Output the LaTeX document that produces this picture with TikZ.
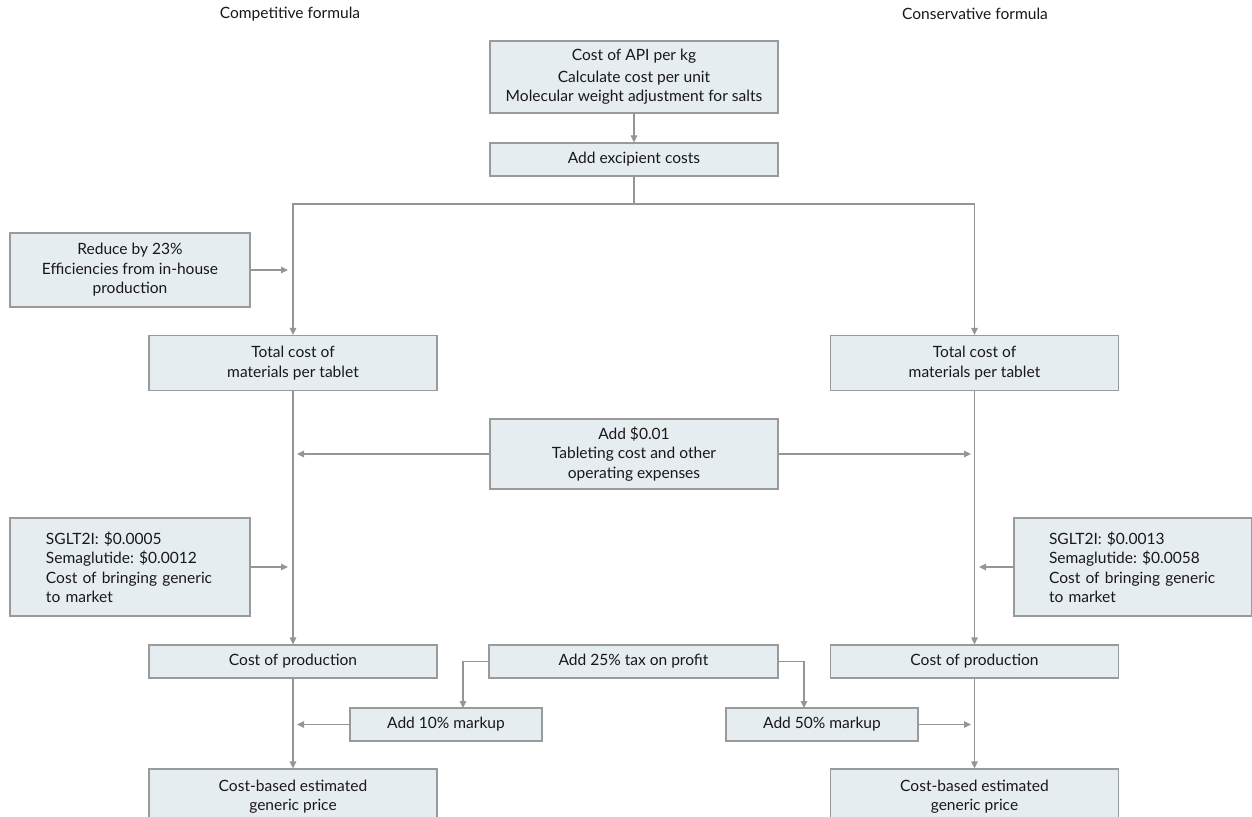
\documentclass[tikz,border=0pt]{standalone}
\usepackage{fontspec}
\setmainfont{Lato}
\usetikzlibrary{arrows.meta}
\definecolor{boxfill}{HTML}{E6EDF1}
\definecolor{boxline}{HTML}{9A9A9A}
\definecolor{conn}{HTML}{959595}
\definecolor{txt}{HTML}{1A1718}
\begin{document}
\frenchspacing
\begin{tikzpicture}[x=1bp,y=-1bp,
  every node/.style={text=txt,font=\fontsize{15.6}{19.5}\selectfont},
  box/.style={draw=boxline,fill=boxfill,line width=1.2bp,inner sep=0pt,align=center},
  conn/.style={draw=conn,line width=1.2bp},
  arr/.style={conn,-{Triangle[length=7bp,width=6.5bp]}}]
\useasboundingbox (0,0) rectangle (1252,817);
% headers
\node (hL) at (290,14) {Competitive formula};
\node (hR) at (975,14) {Conservative formula};
% boxes
\node[box,minimum width=288bp,minimum height=72bp] (api) at (634,77) {Cost of API per kg\\[2bp]Calculate cost per unit\\Molecular weight adjustment for salts};
\node[box,minimum width=288bp,minimum height=33bp] (exc) at (634,159.5) {Add excipient costs};
\node[box,minimum width=240bp,minimum height=74bp] (red) at (130,270) {Reduce by 23\%\\Efficiencies from in-house\\production};
\node[box,minimum width=288bp,minimum height=55bp] (totL) at (293,363) {Total cost of\\materials per tablet};
\node[box,minimum width=288bp,minimum height=55bp] (totR) at (974.5,363) {Total cost of\\materials per tablet};
\node[box,minimum width=288bp,minimum height=70bp] (add) at (634,454) {Add \$0.01\\Tableting cost and other\\operating expenses};
\node[box,minimum width=240bp,minimum height=98bp,text width=168bp,align=left] (sgL) at (130,567) {SGLT2I: \$0.0005\\Semaglutide: \$0.0012\\Cost of bringing generic\\to market};
\node[box,minimum width=238bp,minimum height=98bp,text width=168bp,align=left] (sgR) at (1133,567) {SGLT2I: \$0.0013\\Semaglutide: \$0.0058\\Cost of bringing generic\\to market};
\node[box,minimum width=288bp,minimum height=33bp] (cpL) at (293,661.5) {Cost of production};
\node[box,minimum width=289bp,minimum height=33bp] (tax) at (633.5,661.5) {Add 25\% tax on profit};
\node[box,minimum width=288bp,minimum height=33bp] (cpR) at (974.5,661.5) {Cost of production};
\node[box,minimum width=192bp,minimum height=33bp] (m10) at (446,724.5) {Add 10\% markup};
\node[box,minimum width=192bp,minimum height=33bp] (m50) at (822,724.5) {Add 50\% markup};
\node[box,minimum width=288bp,minimum height=55bp] (cbL) at (293,796.5) {Cost-based estimated\\generic price};
\node[box,minimum width=288bp,minimum height=55bp] (cbR) at (974.5,796.5) {Cost-based estimated\\generic price};
% coordinates
\coordinate (j) at (634,204);
\coordinate (redT) at (288,270);
\coordinate (addL) at (297,454);
\coordinate (addR) at (971,454);
\coordinate (sgLT) at (288,567);
\coordinate (sgRT) at (979,567);
\coordinate (taxL) at (463,661.5);
\coordinate (taxR) at (804,661.5);
\coordinate (m10T) at (463,708);
\coordinate (m50T) at (804,708);
\coordinate (m10E) at (297,724.5);
\coordinate (m50E) at (971,724.5);
% connectors
\draw[arr] (api) -- (exc);
\draw[conn] (exc) -- (j);
\draw[arr] (j) -| (totL.north);
\draw[arr] (j) -| (totR.north);
\draw[arr] (red) -- (redT);
\draw[arr] (totL) -- (cpL);
\draw[arr] (totR) -- (cpR);
\draw[arr] (add) -- (addL);
\draw[arr] (add) -- (addR);
\draw[arr] (sgL) -- (sgLT);
\draw[arr] (sgR) -- (sgRT);
\draw[arr] (tax.west) -- (taxL) -- (m10T);
\draw[arr] (tax.east) -- (taxR) -- (m50T);
\draw[arr] (m10) -- (m10E);
\draw[arr] (m50) -- (m50E);
\draw[arr] (cpL) -- (cbL);
\draw[arr] (cpR) -- (cbR);
\end{tikzpicture}
\end{document}
